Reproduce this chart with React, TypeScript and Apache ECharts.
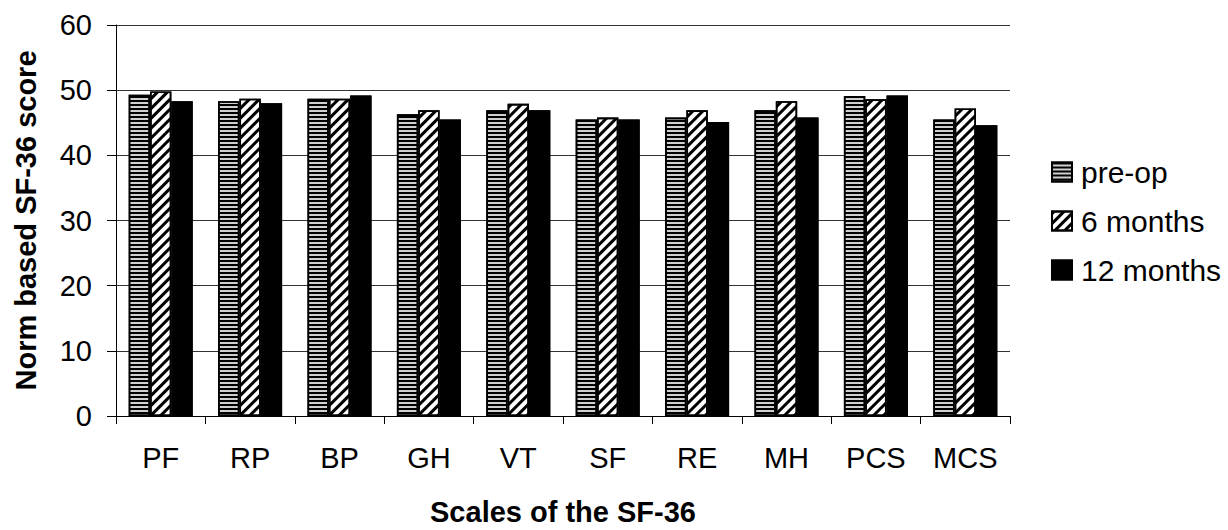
import React, { useEffect, useRef } from "react";
import * as echarts from "echarts";

const categories = ["PF", "RP", "BP", "GH", "VT", "SF", "RE", "MH", "PCS", "MCS"];
const preOp = [49.3, 48.3, 48.7, 46.3, 46.9, 45.5, 45.8, 46.9, 49.1, 45.5];
const sixMonths = [49.8, 48.7, 48.7, 46.9, 47.9, 45.8, 46.9, 48.3, 48.6, 47.2];
const twelveMonths = [48.3, 48.0, 49.2, 45.5, 46.9, 45.5, 45.1, 45.8, 49.2, 44.6];
const seriesNames = ["pre-op", "6 months", "12 months"];
const yTicks = [0, 10, 20, 30, 40, 50, 60];

const FONT = "Liberation Sans, Arial, sans-serif";

export default function App() {
  const ref = useRef<HTMLDivElement>(null);
  useEffect(() => {
    if (!ref.current) return;
    const chart = echarts.init(ref.current, undefined, { renderer: "svg" });
    const border = { borderColor: "#000", borderWidth: 1.6 };
    chart.setOption({
      animation: false,
      backgroundColor: "#fff",
      aria: { enabled: true, decal: { show: true } },
      textStyle: { fontFamily: FONT },
      grid: {
        left: 116,
        right: 218,
        top: 25,
        bottom: 114,
        containLabel: false,
        outerBoundsMode: "none",
      },
      legend: {
        orient: "vertical",
        left: 1046,
        top: 152,
        icon: "rect",
        itemWidth: 20,
        itemHeight: 19,
        itemGap: 19,
        textStyle: {
          fontSize: 30,
          lineHeight: 30,
          color: "#000",
          fontFamily: FONT,
          padding: [0, 0, 0, 4],
        },
        data: seriesNames,
      },
      xAxis: {
        type: "category",
        data: categories,
        name: "Scales of the SF-36",
        nameLocation: "middle",
        nameGap: 81,
        nameTextStyle: {
          fontSize: 29,
          lineHeight: 29,
          fontWeight: "bold",
          color: "#000",
          verticalAlign: "top",
        },
        axisLine: { lineStyle: { color: "#000", width: 1 } },
        axisTick: { show: true, length: 8, lineStyle: { color: "#000" } },
        axisLabel: { fontSize: 29, color: "#000", margin: 27 },
      },
      yAxis: {
        type: "value",
        min: 0,
        max: 60,
        interval: 10,
        name: "Norm based SF-36 score",
        nameLocation: "middle",
        nameGap: 76,
        nameTextStyle: { fontSize: 29, fontWeight: "bold", color: "#000" },
        axisLine: { show: true, lineStyle: { color: "#000", width: 1 } },
        axisTick: { show: true, length: 9, lineStyle: { color: "#000" } },
        axisLabel: {
          fontSize: 29,
          color: "#000",
          margin: 24,
          formatter: (v: number) => (yTicks.includes(v) ? String(v) : ""),
        },
        splitLine: { show: true, lineStyle: { color: "#333", width: 1.2 } },
      },
      series: [
        {
          name: seriesNames[0],
          type: "bar",
          data: preOp,
          barGap: "0%",
          barCategoryGap: "28.4%",
          itemStyle: {
            color: "#d0d0d0",
            ...border,
            decal: {
              symbol: "rect",
              symbolSize: 1,
              color: "#000",
              dashArrayX: [1, 0],
              dashArrayY: [1.5, 1.5],
              rotation: 0,
            },
          },
        },
        {
          name: seriesNames[1],
          type: "bar",
          data: sixMonths,
          barGap: "0%",
          barCategoryGap: "28.4%",
          itemStyle: {
            color: "#fff",
            ...border,
            decal: {
              symbol: "rect",
              symbolSize: 1,
              color: "#000",
              dashArrayX: [1, 0],
              dashArrayY: [2.8, 3.4],
              rotation: -Math.PI / 4,
            },
          },
        },
        {
          name: seriesNames[2],
          type: "bar",
          data: twelveMonths,
          barGap: "0%",
          barCategoryGap: "28.4%",
          itemStyle: { color: "#000", ...border, decal: { symbol: "none" } },
        },
      ],
    });
    return () => chart.dispose();
  }, []);
  return (
    <div
      ref={ref}
      style={{ position: "fixed", left: 0, top: 0, width: 1228, height: 530, background: "#fff" }}
    />
  );
}
